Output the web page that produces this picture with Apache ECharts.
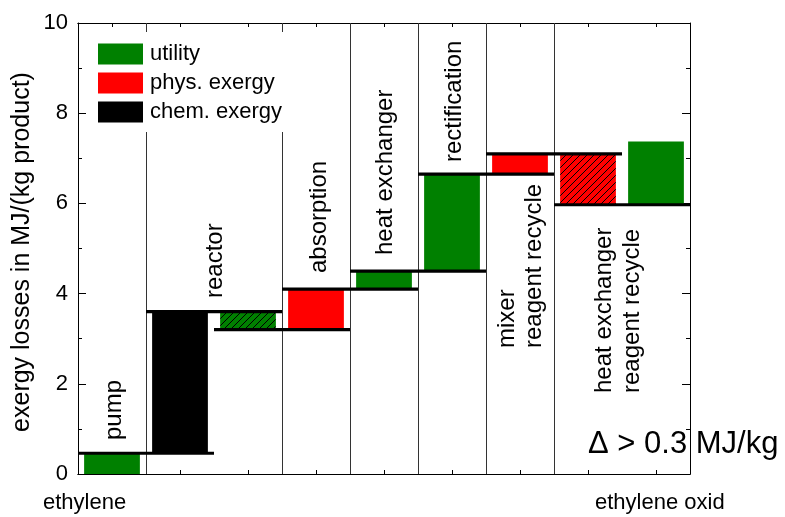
<!DOCTYPE html>
<html>
<head>
<meta charset="utf-8">
<script src="https://cdn.jsdelivr.net/npm/echarts@6/dist/echarts.min.js"></script>
<style>
html,body{margin:0;padding:0;background:#fff;}
#chart{width:785px;height:517px;}
</style>
</head>
<body>
<div id="chart"></div>
<script>
// ---------- data ----------
// stage columns on the hidden x scale (0..18), one column per 2 units
const tickCategories = ['1','2','3','4','5','6','7','8','9'];
const yTicks = [0, 2, 4, 6, 8, 10];
// vertical separators between process steps (x in data units)
const dividers = [2, 6, 8, 10, 12, 14];
// cumulative level lines: [xStart, xEnd, level]
const levelLines = [
  [0, 4, 0.46],
  [2, 6, 3.6],
  [4, 8, 3.2],
  [6, 10, 4.1],
  [8, 12, 4.5],
  [10, 14, 6.65],
  [12, 16, 7.1],
  [14, 18, 5.97]
];
// bars: [xCenter, low, high, hatched(1 = negative contribution)]
const utilityBars = [
  [1, 0, 0.46, 0],
  [5, 3.2, 3.6, 1],
  [9, 4.1, 4.5, 0],
  [11, 4.5, 6.65, 0],
  [17, 5.97, 7.37, 0]
];
const physBars = [
  [7, 3.2, 4.1, 0],
  [13, 6.65, 7.1, 0],
  [15, 5.97, 7.1, 1]
];
const chemBars = [
  [3, 0.46, 3.6, 0]
];
const stageLabels = [
  ['pump'], ['reactor'], ['absorption'], ['heat exchanger'], ['rectification'],
  ['mixer', 'reagent recycle'], ['heat exchanger', 'reagent recycle']
];

// ---------- layout / style ----------
const FONT = "'Liberation Sans', Arial, sans-serif";
const HALF = 0.82;
const GREEN = '#008000', RED = '#ff0000', BLACK = '#000000';
// pixel anchors for the rotated stage labels: per line [centerX, startY]
const labelPos = [
  [[114, 440]], [[215, 298]], [[319, 273]], [[385, 255]], [[454, 162]],
  [[507, 348], [534, 348]], [[604, 393], [632, 393]]
];

function hatch(color) {
  const c = document.createElement('canvas');
  const s = 7;
  c.width = s; c.height = s;
  const g = c.getContext('2d');
  g.fillStyle = color; g.fillRect(0, 0, s, s);
  g.strokeStyle = '#000'; g.lineWidth = 1;
  g.beginPath();
  g.moveTo(0, s); g.lineTo(s, 0);
  g.moveTo(-1, 1); g.lineTo(1, -1);
  g.moveTo(s - 1, s + 1); g.lineTo(s + 1, s - 1);
  g.stroke();
  return {image: c, repeat: 'repeat'};
}
const patterns = {};
patterns[GREEN] = hatch(GREEN);
patterns[RED] = hatch(RED);

function barRender(color) {
  return function (params, api) {
    const xc = api.value(0), lo = api.value(1), hi = api.value(2), h = api.value(3);
    const p0 = api.coord([xc - HALF, hi]);
    const p1 = api.coord([xc + HALF, lo]);
    return {
      type: 'rect',
      shape: {x: p0[0], y: p0[1], width: p1[0] - p0[0], height: p1[1] - p0[1]},
      style: {fill: h ? patterns[color] : color, stroke: null}
    };
  };
}

function tickAxis(pos, aligned, len, filter) {
  return {
    type: 'category', data: tickCategories, position: pos, gridIndex: 0,
    boundaryGap: true,
    axisLine: {show: true, onZero: false, lineStyle: {color: '#000', width: 1}},
    axisTick: {show: true, inside: true, length: len, alignWithLabel: aligned,
      interval: filter || 0, lineStyle: {color: '#000', width: 1}},
    axisLabel: {show: false}, splitLine: {show: false}
  };
}
const majorFilter = function (i) { return i % 2 === 1; };

const graphics = [];
stageLabels.forEach(function (lines, i) {
  lines.forEach(function (t, j) {
    graphics.push({
      type: 'text', x: labelPos[i][j][0], y: labelPos[i][j][1], rotation: Math.PI / 2, z: 10,
      style: {text: t, font: '24px ' + FONT, fill: '#000', align: 'left', verticalAlign: 'middle'}
    });
  });
});
graphics.push({
  type: 'text', x: 22, y: 252, rotation: Math.PI / 2, z: 10,
  style: {text: 'exergy losses in MJ/(kg product)', font: '25px ' + FONT, fill: '#000', align: 'center', verticalAlign: 'middle'}
});
graphics.push({
  type: 'text', x: 588, y: 444, z: 10,
  style: {text: 'Δ > 0.3 MJ/kg', font: '31px ' + FONT, fill: '#000', align: 'left', verticalAlign: 'middle'}
});
graphics.push({
  type: 'text', x: 43, y: 503, z: 10,
  style: {text: 'ethylene', font: '22px ' + FONT, fill: '#000', align: 'left', verticalAlign: 'middle'}
});
graphics.push({
  type: 'text', x: 595, y: 503, z: 10,
  style: {text: 'ethylene oxid', font: '22px ' + FONT, fill: '#000', align: 'left', verticalAlign: 'middle'}
});

const chart = echarts.init(document.getElementById('chart'), null, {renderer: 'canvas'});
chart.setOption({
  animation: false,
  backgroundColor: '#fff',
  textStyle: {fontFamily: FONT},
  grid: {left: 78, right: 95, top: 23, bottom: 43, containLabel: false},
  legend: {
    show: true, orient: 'vertical', left: 88, top: 32,
    padding: [11, 12, 9, 10], backgroundColor: '#fff',
    itemWidth: 45, itemHeight: 21, itemGap: 7, icon: 'rect',
    textStyle: {fontSize: 22, color: '#000', fontFamily: FONT, lineHeight: 21, padding: [0, 0, 0, 2]},
    data: ['utility', 'phys. exergy', 'chem. exergy'],
    selectedMode: false, z: 5
  },
  xAxis: [
    {type: 'value', min: 0, max: 18, show: false, gridIndex: 0},
    tickAxis('bottom', true, 4),
    tickAxis('bottom', false, 8, majorFilter),
    tickAxis('top', true, 4),
    tickAxis('top', false, 8, majorFilter)
  ],
  yAxis: [
    {type: 'value', min: yTicks[0], max: yTicks[yTicks.length - 1], interval: 2, position: 'left',
      axisLine: {show: true, lineStyle: {color: '#000', width: 1}},
      axisTick: {show: true, inside: true, length: 8, lineStyle: {color: '#000'}},
      minorTick: {show: true, splitNumber: 2, length: 4, lineStyle: {color: '#000'}},
      axisLabel: {show: true, fontSize: 22, color: '#000', margin: 10, fontFamily: FONT},
      splitLine: {show: false}, minorSplitLine: {show: false}},
    {type: 'value', min: yTicks[0], max: yTicks[yTicks.length - 1], interval: 2, position: 'right',
      axisLine: {show: true, lineStyle: {color: '#000', width: 1}},
      axisTick: {show: true, inside: true, length: 8, lineStyle: {color: '#000'}},
      minorTick: {show: true, splitNumber: 2, length: 4, lineStyle: {color: '#000'}},
      axisLabel: {show: false}, splitLine: {show: false}, minorSplitLine: {show: false}}
  ],
  series: [
    {
      type: 'custom', name: 'dividers', xAxisIndex: 0, yAxisIndex: 0, z: 1, silent: true,
      data: dividers.map(function (d) { return [d]; }),
      renderItem: function (params, api) {
        const a = api.coord([api.value(0), 0]);
        const b = api.coord([api.value(0), 10]);
        const x = Math.round(a[0]) + 0.5;
        return {type: 'line', shape: {x1: x, y1: a[1], x2: x, y2: b[1]},
          style: {stroke: '#333', lineWidth: 1}};
      }
    },
    {type: 'custom', name: 'utility', xAxisIndex: 0, yAxisIndex: 0, z: 2, itemStyle: {color: GREEN},
      data: utilityBars, renderItem: barRender(GREEN)},
    {type: 'custom', name: 'phys. exergy', xAxisIndex: 0, yAxisIndex: 0, z: 2, itemStyle: {color: RED},
      data: physBars, renderItem: barRender(RED)},
    {type: 'custom', name: 'chem. exergy', xAxisIndex: 0, yAxisIndex: 0, z: 2, itemStyle: {color: BLACK},
      data: chemBars, renderItem: barRender(BLACK)},
    {
      type: 'custom', name: 'levels', xAxisIndex: 0, yAxisIndex: 0, z: 3, silent: true,
      data: levelLines,
      renderItem: function (params, api) {
        const a = api.coord([api.value(0), api.value(2)]);
        const b = api.coord([api.value(1), api.value(2)]);
        return {type: 'line', shape: {x1: a[0], y1: a[1], x2: b[0], y2: b[1]},
          style: {stroke: '#000', lineWidth: 3.2}};
      }
    }
  ],
  graphic: graphics
});
</script>
</body>
</html>
